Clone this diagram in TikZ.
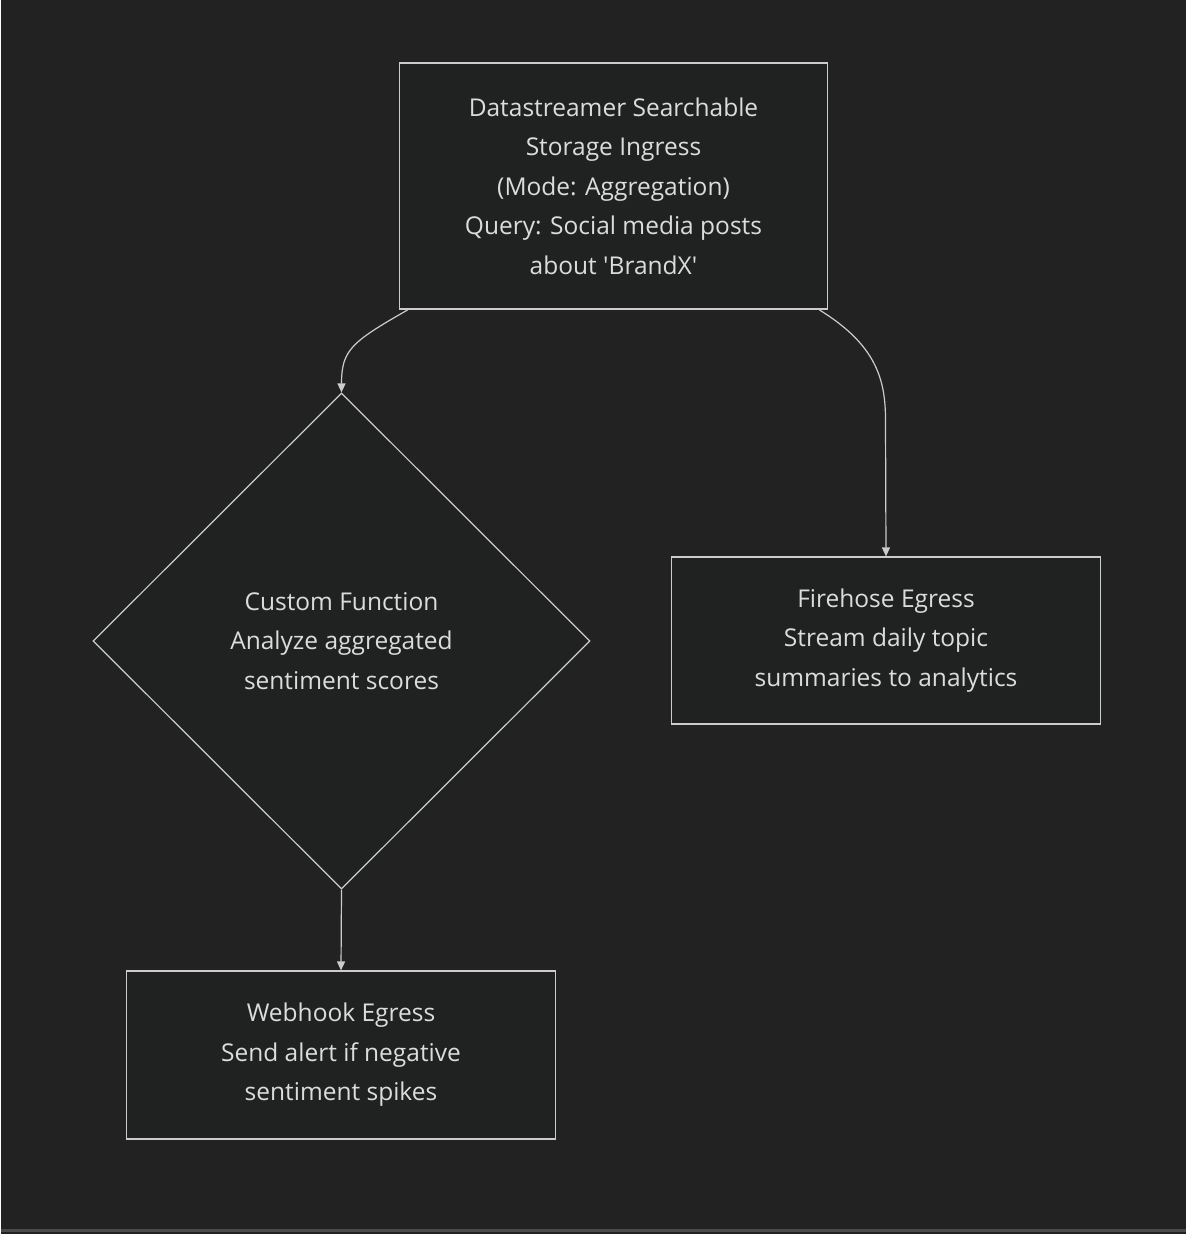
\documentclass[tikz,border=0pt]{standalone}
\usepackage{fontspec}
\setmainfont{Open Sans}
\usetikzlibrary{shapes.geometric,arrows.meta}
\definecolor{bg}{RGB}{34,34,34}
\definecolor{nodefill}{RGB}{32,34,34}
\definecolor{edge}{RGB}{204,204,204}
\definecolor{txt}{RGB}{220,220,220}
\tikzset{
 box/.style={draw=edge,fill=nodefill,line width=1.2pt,inner sep=0pt,text=txt,align=center,font=\fontsize{24.5}{39.5}\selectfont},
 conn/.style={draw=edge,line width=1.2pt,-{Triangle[length=9pt,width=8pt]}}
}
\begin{document}
\begin{tikzpicture}[x=1pt,y=-1pt]
\fill[bg] (0,0) rectangle (1184,1234);
\draw[white!18!bg,line width=3pt] (0,1230) -- (1184,1230);
\useasboundingbox (0,0) rectangle (1184,1234);
\node[box,minimum width=428pt,minimum height=246pt] (src) at (612,186) {Datastreamer Searchable\\Storage Ingress\\(Mode: Aggregation)\\Query: Social media posts\\about \textquotesingle BrandX\textquotesingle};
\node[box,diamond,minimum width=497pt,minimum height=496pt] (fn) at (340,641) {Custom Function\\Analyze aggregated\\sentiment scores};
\node[box,minimum width=429pt,minimum height=167pt] (fire) at (884.5,640.5) {Firehose Egress\\Stream daily topic\\summaries to analytics};
\node[box,minimum width=429pt,minimum height=168pt] (web) at (339.5,1055) {Webhook Egress\\Send alert if negative\\sentiment spikes};
\coordinate (a1) at (406,310);
\coordinate (a2) at (818,310);
\draw[conn] (a1) .. controls (350,342) and (340,350) .. (fn.north);
\draw[conn] (a2) .. controls (875,345) and (884,380) .. (884,420) -- (fire.north);
\draw[conn] (fn.south) -- (web.north);
\end{tikzpicture}
\end{document}
